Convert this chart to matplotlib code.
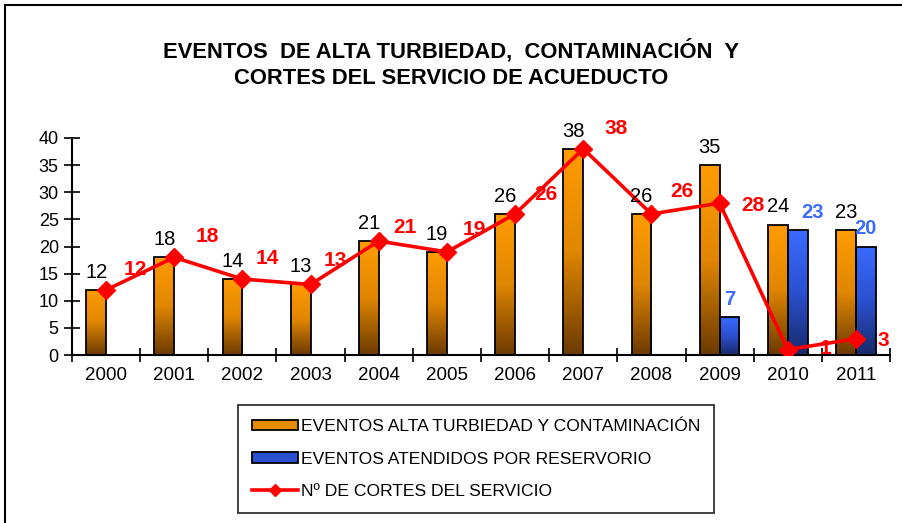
import matplotlib
matplotlib.use("Agg")
import matplotlib.pyplot as plt
import numpy as np
from matplotlib.patches import Rectangle
from matplotlib.lines import Line2D
from matplotlib.colors import LinearSegmentedColormap

plt.rcParams['font.family'] = ['Liberation Sans', 'DejaVu Sans']

years = ['2000', '2001', '2002', '2003', '2004', '2005', '2006', '2007', '2008', '2009', '2010', '2011']
turbiedad = [12, 18, 14, 13, 21, 19, 26, 38, 26, 35, 24, 23]
reservorio = [None, None, None, None, None, None, None, None, None, 7, 23, 20]
cortes = [12, 18, 14, 13, 21, 19, 26, 38, 26, 28, 1, 3]

title = "EVENTOS  DE ALTA TURBIEDAD,  CONTAMINACIÓN  Y\nCORTES DEL SERVICIO DE ACUEDUCTO"
legend_labels = ["EVENTOS ALTA TURBIEDAD Y CONTAMINACIÓN",
                 "EVENTOS ATENDIDOS POR RESERVORIO",
                 "Nº DE CORTES DEL SERVICIO"]

W, H = 902, 523
fig = plt.figure(figsize=(W / 100, H / 100), dpi=100)
ax = fig.add_axes([72 / W, 1 - 355 / H, (890 - 72) / W, (355 - 138) / H])

orange_cmap = LinearSegmentedColormap.from_list('o', ['#FF9C00', '#E08600', '#6B3A00'])
blue_cmap = LinearSegmentedColormap.from_list('b', ['#3A6BFF', '#2B50D0', '#172A6A'])

x = np.arange(len(years))
bw = 0.29
grad = np.linspace(0, 1, 256).reshape(-1, 1)


def gradient_bar(xc, h, cmap):
    x0 = xc - bw / 2
    rect = Rectangle((x0, 0), bw, h, facecolor='none', edgecolor='black', lw=1.3, zorder=3)
    ax.add_patch(rect)
    im = ax.imshow(grad, cmap=cmap, aspect='auto', extent=(x0, x0 + bw, 0, h),
                   origin='upper', zorder=2, interpolation='bilinear')
    clip = Rectangle((x0, 0), bw, h, transform=ax.transData)
    im.set_clip_path(clip)


for i, v in enumerate(turbiedad):
    gradient_bar(x[i] - bw / 2, v, orange_cmap)
    ax.annotate(str(v), (x[i] - bw / 2, v), xytext=(0, 6), textcoords='offset points',
                ha='center', va='bottom', fontsize=14.5, color='black', zorder=6)

blue_off = {9: (0, 6), 10: (11, 6), 11: (0, 6)}
for i, v in enumerate(reservorio):
    if v is None:
        continue
    gradient_bar(x[i] + bw / 2, v, blue_cmap)
    ox, oy = blue_off.get(i, (0, 6))
    ax.annotate(str(v), (x[i] + bw / 2, v), xytext=(ox, oy), textcoords='offset points',
                ha='center', va='bottom', fontsize=14.5, color='#3A6BFF', fontweight='bold', zorder=6)

ax.plot(x, cortes, color='#FF0000', lw=2.6, marker='D', markersize=9.5, zorder=5)
red_off = [(21, 15), (24, 15), (18, 15), (18, 17), (19, 10), (20, 16), (22, 14),
           (24, 15), (22, 16), (24, -2), (27, 1), (20, -1)]
for i, v in enumerate(cortes):
    ox, oy = red_off[i]
    ax.annotate(str(v), (x[i], v), xytext=(ox, oy), textcoords='offset points',
                ha='center', va='center', fontsize=15, color='#FF0000', fontweight='bold', zorder=6)

ax.set_xlim(-0.5, len(years) - 0.5)
ax.set_ylim(0, 40)
ax.set_yticks(range(0, 41, 5))
ax.set_xticks(x)
ax.set_xticklabels(years)
ax.set_xticks(np.arange(-0.5, len(years), 1), minor=True)
ax.tick_params(axis='x', which='major', length=0, labelsize=13.5, pad=9)
ax.tick_params(axis='x', which='minor', length=10, direction='inout', width=1.2)
ax.tick_params(axis='y', length=11, direction='inout', width=1.2, labelsize=13, pad=4)
for s in ['top', 'right']:
    ax.spines[s].set_visible(False)
for s in ['left', 'bottom']:
    ax.spines[s].set_linewidth(1.5)
ax.set_facecolor('none')

fig.text(0.5, 1 - 64 / H, title, ha='center', va='center', fontsize=15.8,
         fontweight='bold', linespacing=1.3)

# legend
handles = [Rectangle((0, 0), 1, 1, facecolor='#E88C00', edgecolor='black', lw=1.3),
           Rectangle((0, 0), 1, 1, facecolor='#2B50D0', edgecolor='black', lw=1.3),
           Line2D([], [], color='#FF0000', lw=2.6, marker='D', markersize=6)]
leg = fig.legend(handles, legend_labels, loc='upper left',
                 bbox_to_anchor=(238 / W, 1 - 405 / H), borderaxespad=0,
                 fontsize=12.6, frameon=True,
                 fancybox=False, edgecolor='black', borderpad=0.8, labelspacing=1.0,
                 handlelength=2.6, handleheight=0.55, handletextpad=0.2)
leg.get_frame().set_linewidth(1.3)

# outer frame
fig.add_artist(Rectangle((5 / W, -0.1), 1.2, 1 - 5 / H + 0.1, transform=fig.transFigure,
                         facecolor='none', edgecolor='black', lw=1.5))

fig.savefig('out.png', dpi=100)
